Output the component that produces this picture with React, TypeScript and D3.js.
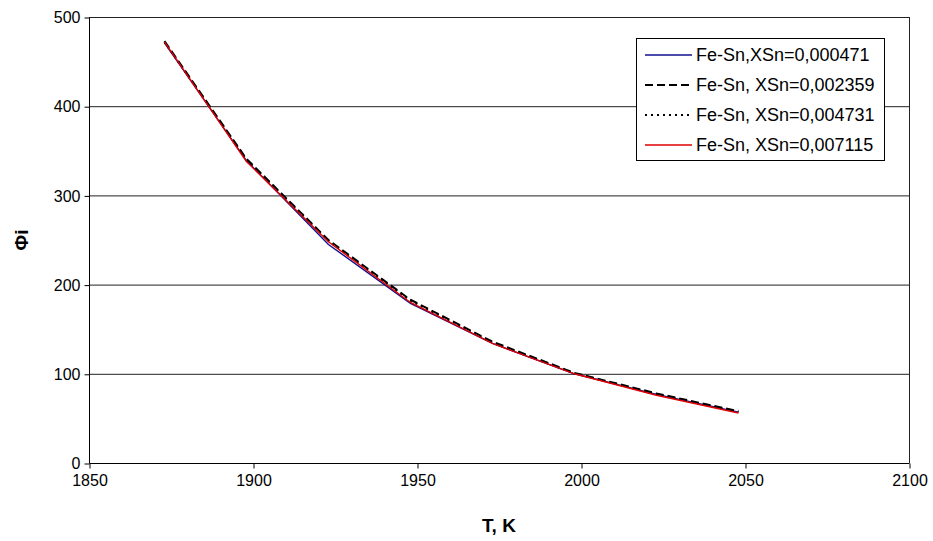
import React, { useEffect, useRef } from "react";
import * as d3 from "d3";

// temperatures, K
const temps = [1873, 1898, 1923, 1948, 1973, 1998, 2023, 2048];

// Фi values
const sn000471 = [471, 339, 245, 179, 134, 100, 77, 57];
const sn002359 = [473, 341, 250, 183, 136, 101, 78, 58];
const sn004731 = [472, 340, 249, 182, 135, 100.5, 77, 57.5];
const sn007115 = [472, 338, 248, 180, 134, 100, 76, 56];

const xTicks = [1850, 1900, 1950, 2000, 2050, 2100];
const yTicks = [0, 100, 200, 300, 400, 500];

const series = [
	{ name: "Fe-Sn,XSn=0,000471", values: sn000471, color: "#10108f", width: 1.4, dash: "" },
	{ name: "Fe-Sn, XSn=0,002359", values: sn002359, color: "#000", width: 2, dash: "8,4" },
	{ name: "Fe-Sn, XSn=0,004731", values: sn004731, color: "#000", width: 2, dash: "2,4" },
	{ name: "Fe-Sn, XSn=0,007115", values: sn007115, color: "#e00000", width: 1.4, dash: "" },
];

const W = 933;
const H = 541;
const left = 89;
const right = 909;
const top = 17;
const bottom = 463;

export default function App() {
	const svgRef = useRef<SVGSVGElement | any>();

	useEffect(() => {
		const svg = d3.select(svgRef.current);
		svg.selectAll("*").remove();
		const font = "Arial, 'Liberation Sans', sans-serif";

		const x = d3.scaleLinear().domain([1850, 2100]).range([left, right]);
		const y = d3.scaleLinear().domain([0, 500]).range([bottom, top]);

		// gridlines
		svg
			.append("g")
			.selectAll("line")
			.data(yTicks.filter((t) => t > 0))
			.join("line")
			.attr("x1", left)
			.attr("x2", right)
			.attr("y1", (d) => y(d) + 0.5)
			.attr("y2", (d) => y(d) + 0.5)
			.attr("stroke", "#222")
			.attr("stroke-width", 1);

		// right border of plot area
		svg
			.append("line")
			.attr("x1", right + 0.5)
			.attr("x2", right + 0.5)
			.attr("y1", top)
			.attr("y2", bottom)
			.attr("stroke", "#222");

		const xAxis: any = d3.axisBottom(x).tickValues(xTicks).tickSize(5).tickPadding(6).tickFormat((d: any) => d);
		const gx = svg.append("g").attr("transform", `translate(0.5,${bottom + 0.5})`).call(xAxis);
		gx.select(".domain").attr("stroke", "#000").attr("d", `M${left},0H${right}`);
		gx.selectAll("line").attr("stroke", "#000");
		gx.selectAll("text").attr("font-family", font).attr("font-size", 16).attr("fill", "#000");

		const yAxis: any = d3.axisLeft(y).tickValues(yTicks).tickSize(5).tickPadding(4);
		const gy = svg.append("g").attr("transform", `translate(${left + 0.5},0.5)`).call(yAxis);
		gy.select(".domain").attr("stroke", "#000").attr("d", `M0,${top}V${bottom}`);
		gy.selectAll("line").attr("stroke", "#000");
		gy.selectAll("text").attr("font-family", font).attr("font-size", 16).attr("fill", "#000");

		const line = d3
			.line<number>()
			.x((d, i) => x(temps[i]))
			.y((d) => y(d));

		svg
			.append("g")
			.selectAll("path")
			.data(series)
			.join("path")
			.attr("d", (s) => line(s.values))
			.attr("fill", "none")
			.attr("stroke", (s) => s.color)
			.attr("stroke-width", (s) => s.width)
			.attr("stroke-dasharray", (s) => s.dash);

		// legend
		const lg = svg.append("g").attr("transform", "translate(636,38)");
		lg.append("rect")
			.attr("x", 0.5)
			.attr("y", 0.5)
			.attr("width", 248)
			.attr("height", 122)
			.attr("fill", "#fff")
			.attr("stroke", "#000");
		const row = lg
			.selectAll("g.row")
			.data(series)
			.join("g")
			.attr("class", "row")
			.attr("transform", (d, i) => `translate(0,${17 + i * 30})`);
		row
			.append("line")
			.attr("x1", 9)
			.attr("x2", 56)
			.attr("stroke", (s) => s.color)
			.attr("stroke-width", (s) => s.width)
			.attr("stroke-dasharray", (s) => s.dash);
		row
			.append("text")
			.attr("x", 60)
			.attr("dy", "0.35em")
			.attr("font-family", font)
			.attr("font-size", 18)
			.text((s) => s.name);

		// axis titles
		svg
			.append("text")
			.attr("x", (left + right) / 2)
			.attr("y", 532)
			.attr("text-anchor", "middle")
			.attr("font-family", font)
			.attr("font-size", 19)
			.attr("font-weight", "bold")
			.text("T, K");

		svg
			.append("text")
			.attr("transform", "translate(28,240) rotate(-90)")
			.attr("text-anchor", "middle")
			.attr("font-family", font)
			.attr("font-size", 19)
			.attr("font-weight", "bold")
			.text("Φi");
	}, []);

	return (
		<div style={{ position: "absolute", left: 0, top: 0 }}>
			<svg ref={svgRef} width={W} height={H} style={{ display: "block", background: "#fff" }} />
		</div>
	);
}
